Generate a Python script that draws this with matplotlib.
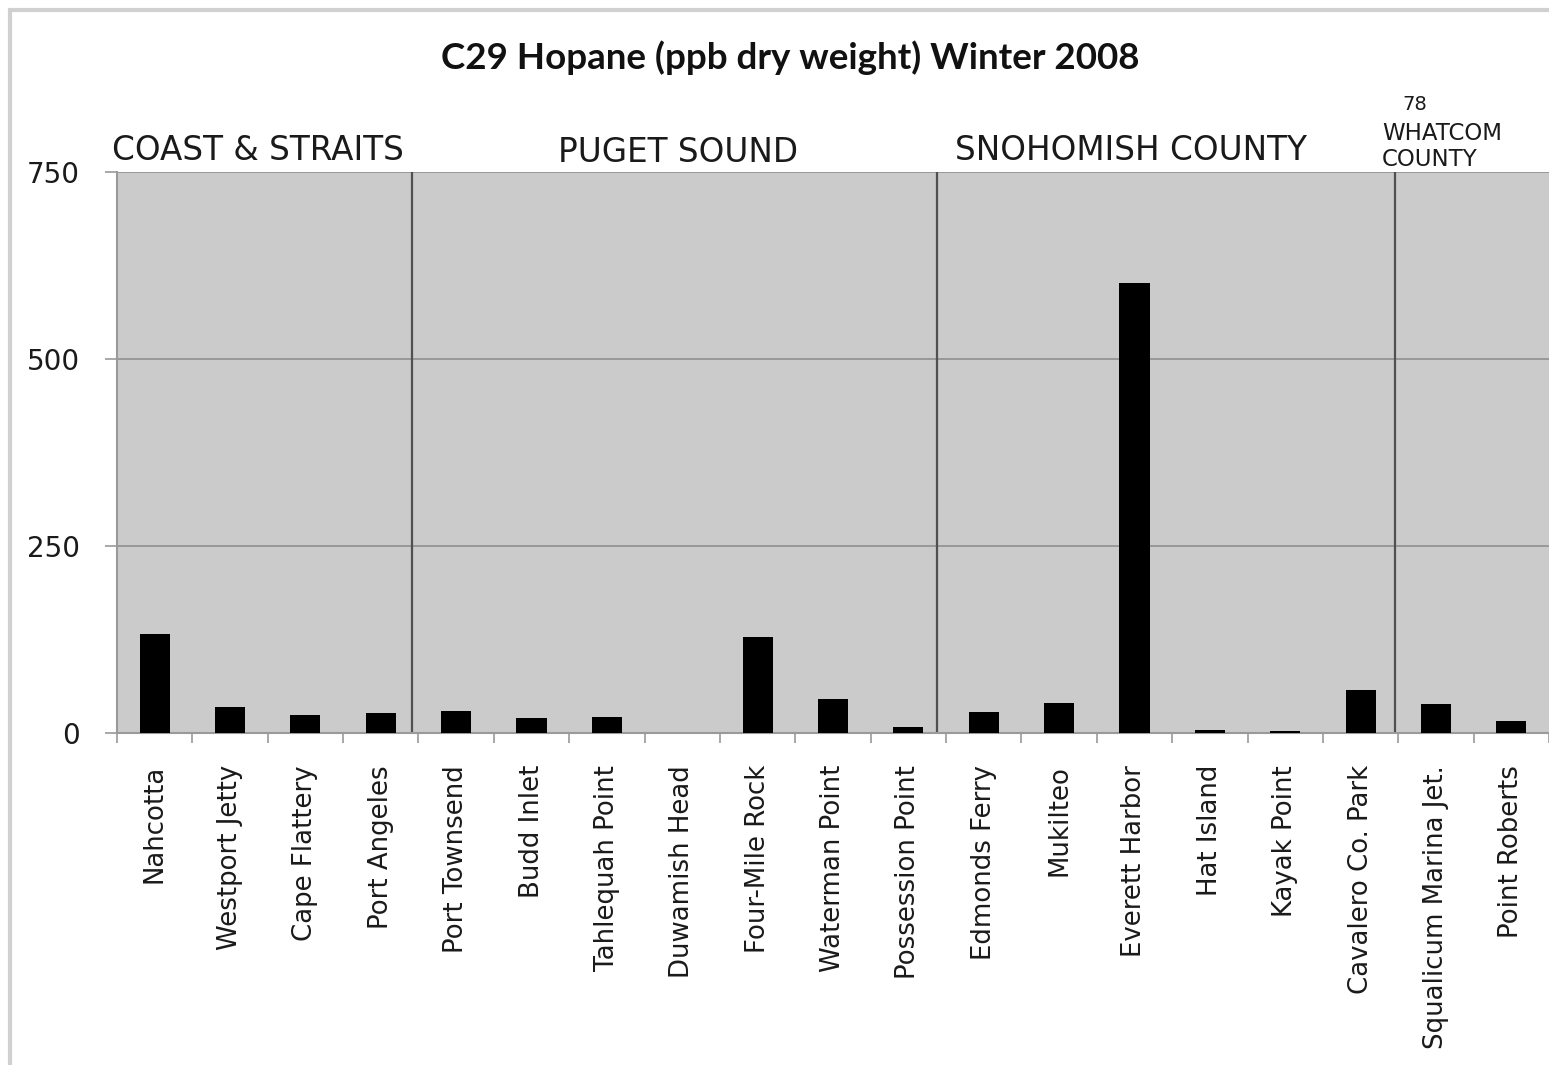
import numpy as np
import matplotlib
matplotlib.use('Agg')
import matplotlib.pyplot as plt
from matplotlib import transforms
from matplotlib.patches import Rectangle

# Sites in plot order
sites = ['Nahcotta', 'Westport Jetty', 'Cape Flattery', 'Port Angeles',
         'Port Townsend', 'Budd Inlet', 'Tahlequah Point', 'Duwamish Head',
         'Four-Mile Rock', 'Waterman Point', 'Possession Point',
         'Edmonds Ferry', 'Mukilteo', 'Everett Harbor', 'Hat Island',
         'Kayak Point', 'Cavalero Co. Park', 'Squalicum Marina Jet.',
         'Point Roberts']
# C29 hopane, ppb dry weight
hopane = [133, 35, 24, 27, 29, 20, 21, 0, 128, 45, 8,
          28, 40, 602, 4, 3, 57, 39, 16]

group_names = ['COAST & STRAITS', 'PUGET SOUND', 'SNOHOMISH COUNTY']
# where the region divider lines sit (category units)
group_dividers = [3.41, 10.38, 16.46]
y_ticks = [0, 250, 500, 750]

W, H = 1549, 1065
fig = plt.figure(figsize=(W / 100, H / 100), dpi=100)

# light frame around the chart area
fig.patches.append(Rectangle((10 / W, -0.1), 1.2, 1 - 10 / H + 0.1,
                             transform=fig.transFigure, fill=False,
                             edgecolor='#d0d0d0', linewidth=3))

ax = fig.add_axes([117 / W, 1 - 733 / H, 1432 / W, 561 / H])
ax.set_facecolor('#cbcbcb')

x = np.arange(len(sites))
ax.bar(x, hopane, width=0.4, color='black', zorder=3)

for d in group_dividers:
    ax.axvline(d, color='#505050', linewidth=1.6, zorder=2)

ax.set_xlim(-0.5, len(sites) - 0.5)
ax.set_ylim(0, 750)
ax.set_yticks(y_ticks)
ax.set_yticklabels([str(t) for t in y_ticks], fontsize=20, color='#1a1a1a')
ax.yaxis.grid(True, color='#8a8a8a', linewidth=1.1, zorder=1)
ax.set_axisbelow(True)

ax.set_xticks(x)
ax.set_xticklabels(sites, rotation=90, fontsize=18.7, color='#1a1a1a')
ax.set_xticks(np.arange(-0.5, len(sites), 1), minor=True)
ax.tick_params(axis='x', which='major', length=0, pad=23)
ax.tick_params(axis='x', which='minor', length=7.5, width=1.2, color='#9a9a9a')
ax.tick_params(axis='y', length=8.6, width=1.2, color='#9a9a9a', pad=18)

for side in ['top', 'right']:
    ax.spines[side].set_visible(False)
for side in ['left', 'bottom']:
    ax.spines[side].set_color('#9a9a9a')
    ax.spines[side].set_linewidth(1.5)

# title and region headers
fig.text(790 / W, 1 - 58 / H, 'C29 Hopane (ppb dry weight) Winter 2008',
         ha='center', va='center', fontsize=26.5, fontweight='bold',
         family='Lato', color='#111111')

mixed = transforms.blended_transform_factory(ax.transData, fig.transFigure)
label_x = [1.37, 6.94, 12.96]
label_y = [1 - 150 / H, 1 - 152 / H, 1 - 150 / H]
for name, lx, ly in zip(group_names, label_x, label_y):
    ax.text(lx, ly, name, transform=mixed, ha='center', va='center',
            fontsize=23.5, color='#1a1a1a', clip_on=False)

fig.text(1415 / W, 1 - 105 / H, '78', ha='center', va='center',
         fontsize=14, color='#1a1a1a')
fig.text(1382 / W, 1 - 133 / H, 'WHATCOM', ha='left', va='center',
         fontsize=16.5, color='#1a1a1a')
fig.text(1382 / W, 1 - 159 / H, 'COUNTY', ha='left', va='center',
         fontsize=16.5, color='#1a1a1a')

fig.savefig('out.png', dpi=100)
